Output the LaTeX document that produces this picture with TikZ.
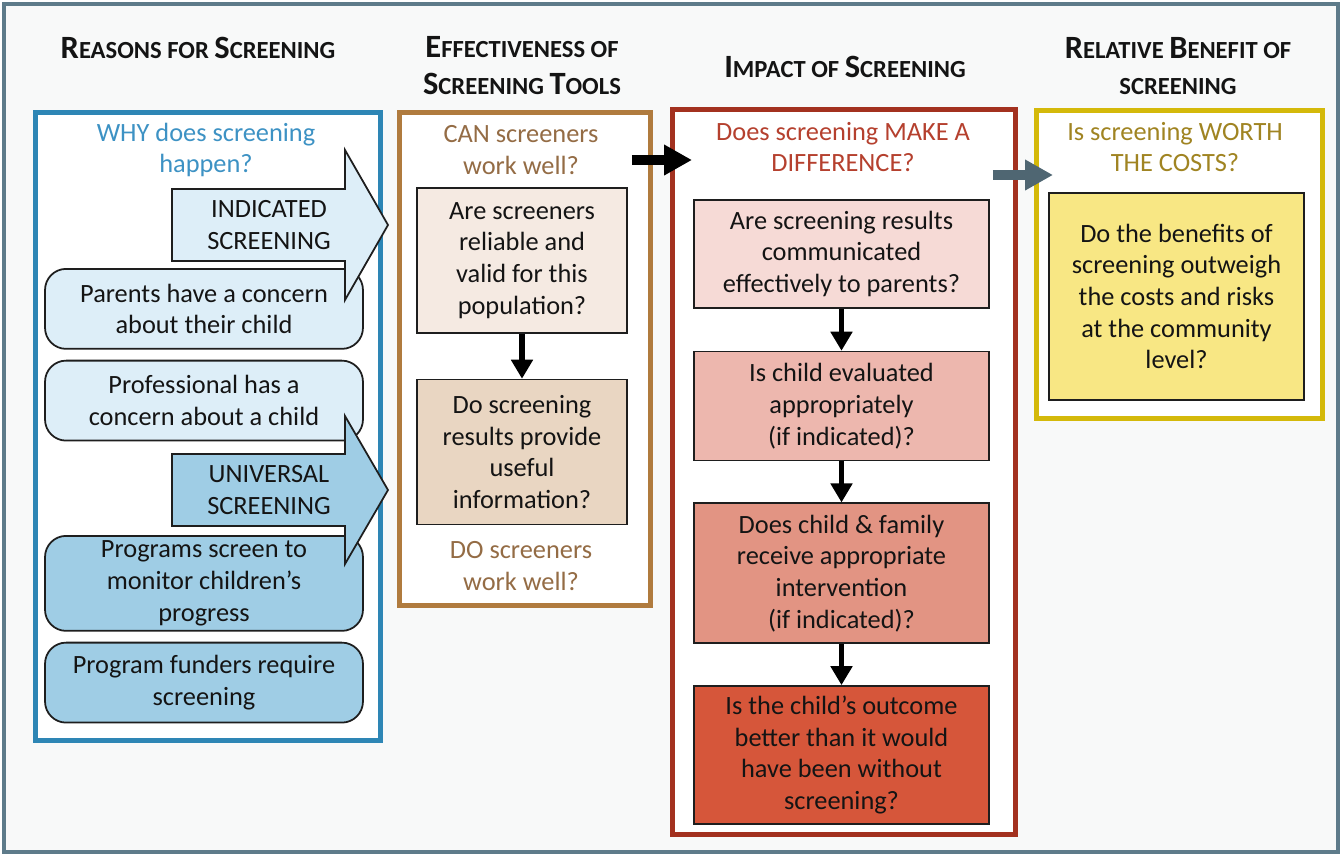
\documentclass[tikz,border=0pt]{standalone}
\usepackage{fontspec}
\setmainfont{Carlito}
\usepackage{tikz}
\usetikzlibrary{arrows.meta,positioning}
\definecolor{outerline}{HTML}{5E7B8A}
\definecolor{paper}{HTML}{F8F9F9}
\definecolor{headtext}{HTML}{141414}
\definecolor{boxline}{HTML}{1E1E1E}
\definecolor{bluefr}{HTML}{2E86B5}
\definecolor{bluetx}{HTML}{3D92C4}
\definecolor{bluelite}{HTML}{DDEEF8}
\definecolor{bluemid}{HTML}{9FCDE5}
\definecolor{brownfr}{HTML}{B07B3E}
\definecolor{browntx}{HTML}{946C45}
\definecolor{brownA}{HTML}{F5EAE2}
\definecolor{brownB}{HTML}{E9D6C2}
\definecolor{redfr}{HTML}{A3311F}
\definecolor{redtx}{HTML}{B5402E}
\definecolor{redA}{HTML}{F6DAD6}
\definecolor{redB}{HTML}{EDB7AE}
\definecolor{redC}{HTML}{E29483}
\definecolor{redD}{HTML}{D6563A}
\definecolor{goldfr}{HTML}{D4B90A}
\definecolor{goldtx}{HTML}{A08422}
\definecolor{goldA}{HTML}{F8E784}
\definecolor{slate}{HTML}{4F6672}
\newcommand\qfont{\fontsize{15}{18}\selectfont}
\newcommand\hcap[2]{{\fontsize{18.5}{21}\selectfont #1}#2}

\begin{document}
\begin{tikzpicture}[x=0.02cm,y=-0.02cm,
			head/.style={font=\fontsize{14}{21}\selectfont\bfseries,align=center,text=headtext},
			frame/.style={draw=#1,line width=2.8pt,fill=white,anchor=north west,inner sep=0pt},
			ask/.style={text=#1,font=\qfont,align=center},
			qbox/.style={draw=boxline,line width=1pt,fill=#1,align=center,font=\qfont,text=headtext,inner sep=2pt},
			rbox/.style={qbox=#1,rounded corners=12\pgflinewidth},
			down/.style={draw=black,line width=3.3pt,-{Triangle[length=0.38cm,width=0.42cm]}},
			fat/.style={draw=#1,line width=5.6pt,-{Triangle[length=0.56cm,width=0.58cm]}},
			blockarr/.style={draw=boxline,line width=1pt,fill=#1,line join=miter}
			]
			\useasboundingbox (0,0) rectangle (1342,856);
			\draw[outerline,line width=2.4pt,fill=paper] (4,4) rectangle (1338,852);
			% column headings
			\node[head] (h1) at (198,48) {\hcap{R}{EASONS} FOR \hcap{S}{CREENING}};
			\node[head] (h2) at (522,66) {\hcap{E}{FFECTIVENESS} OF\\\hcap{S}{CREENING} \hcap{T}{OOLS}};
			\node[head] (h3) at (845,67) {\hcap{I}{MPACT} OF \hcap{S}{CREENING}};
			\node[head] (h4) at (1178,66) {\hcap{R}{ELATIVE} \hcap{B}{ENEFIT} OF\\SCREENING};
			% frames
			\node[frame=bluefr,minimum width=6.9cm,minimum height=12.56cm] (reasons) at (33,110) {};
			\node[frame=brownfr,minimum width=5.02cm,minimum height=9.86cm] (tools) at (397,110) {};
			\node[frame=redfr,minimum width=6.86cm,minimum height=14.5cm] (impact) at (670,107) {};
			\node[frame=goldfr,minimum width=5.72cm,minimum height=6.16cm] (worth) at (1034,108) {};
			% reasons
			\node[ask=bluetx] (why) at (206,150) {WHY does screening\\happen?};
			\node[rbox=bluelite,minimum width=6.36cm,minimum height=1.6cm,anchor=north] (parents) at (204,268) {Parents have a concern\\about their child};
			\node[rbox=bluelite,minimum width=6.36cm,minimum height=1.6cm,below=0.2cm of parents] (prof) {Professional has a\\concern about a child};
			\node[rbox=bluemid,minimum width=6.36cm,minimum height=1.9cm,anchor=north] (programs) at (204,535) {Programs screen to\\monitor children’s\\progress};
			\node[rbox=bluemid,minimum width=6.36cm,minimum height=1.6cm,below=0.2cm of programs] (funders) {Program funders require\\screening};
			\draw[blockarr=bluelite] (172,189) -- (345,189) -- (345,150) -- (388,225) -- (345,300) -- (345,261) -- (172,261) -- cycle;
			\node[ask=headtext] (indicated) at (269,225) {INDICATED\\SCREENING};
			\draw[blockarr=bluemid] (172,454) -- (345,454) -- (345,416) -- (388,490) -- (345,564) -- (345,526) -- (172,526) -- cycle;
			\node[ask=headtext] (universal) at (269,490) {UNIVERSAL\\SCREENING};
			% tools
			\node[ask=browntx] (can) at (521,150) {CAN screeners\\work well?};
			\node[qbox=brownA,minimum width=4.2cm,minimum height=2.9cm,anchor=north] (reliable) at (522,187) {Are screeners\\reliable and\\valid for this\\population?};
			\node[qbox=brownB,minimum width=4.2cm,minimum height=2.9cm,below=0.9cm of reliable] (useful) {Do screening\\results provide\\useful\\information?};
			\node[ask=browntx] (do) at (521,566) {DO screeners\\work well?};
			% impact
			\node[ask=redtx] (diff) at (843,147) {Does screening MAKE A\\DIFFERENCE?};
			\node[qbox=redA,minimum width=5.9cm,minimum height=2.16cm,anchor=north] (told) at (841.5,199) {Are screening results\\communicated\\effectively to parents?};
			\node[qbox=redB,minimum width=5.9cm,minimum height=2.18cm,below=0.84cm of told] (evaluated) {Is child evaluated\\appropriately\\(if indicated)?};
			\node[qbox=redC,minimum width=5.9cm,minimum height=2.8cm,below=0.82cm of evaluated] (intervention) {Does child \& family\\receive appropriate\\intervention\\(if indicated)?};
			\node[qbox=redD,minimum width=5.9cm,minimum height=2.76cm,below=0.82cm of intervention] (outcome) {Is the child’s outcome\\better than it would\\have been without\\screening?};
			% worth
			\node[ask=goldtx] (costs) at (1175,147) {Is screening WORTH\\THE COSTS?};
			\node[qbox=goldA,minimum width=5.1cm,minimum height=4.14cm,anchor=north] (benefits) at (1176.5,192) {Do the benefits of\\screening outweigh\\the costs and risks\\at the community\\level?};
			% connectors
			\draw[down] (reliable) -- (useful);
			\draw[down] (told) -- (evaluated);
			\draw[down] (evaluated) -- (intervention);
			\draw[down] (intervention) -- (outcome);
			\draw[fat=black,shorten <=-0.42cm,shorten >=-0.44cm] (tools.east |- 0,160) -- (impact.west |- 0,160);
			\draw[fat=slate,shorten <=-0.5cm,shorten >=-0.38cm] (impact.east |- 0,175) -- (worth.west |- 0,175);
		\end{tikzpicture}
\end{document}
